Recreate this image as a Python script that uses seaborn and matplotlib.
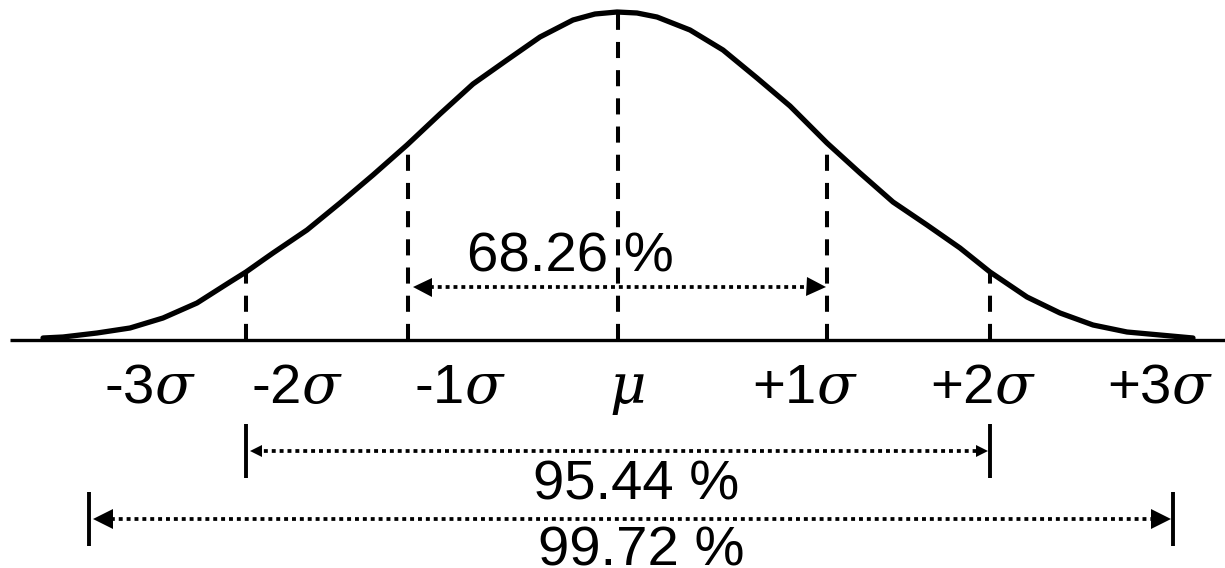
import numpy as np
import matplotlib
matplotlib.use("Agg")
import matplotlib.pyplot as plt
import seaborn as sns

# ---- data (diagram units: x offset from mean, y height above baseline) ----
curve_x = [-575, -555, -521, -488, -455, -421, -388, -372, -355, -345, -311, -278,
           -245, -211, -178, -145, -111, -78, -45, -23, -1, 19, 39, 72, 105, 139,
           172, 209, 242, 275, 309, 342, 372, 409, 442, 475, 509, 542, 575]
curve_y = [2, 3, 7, 12, 22, 37, 58, 68, 80, 87, 110, 137,
           165, 195, 226, 256, 280, 303, 320, 326, 328, 327, 323, 310, 290, 262,
           234, 197, 167, 138, 115, 92, 68, 43, 27, 15, 8, 5, 2]

sigma_marks = [-3, -2, -1, 0, 1, 2, 3]
sigma_labels = [r'-3$\sigma$', r'-2$\sigma$', r'-1$\sigma$', r'$\mu$',
                r'+1$\sigma$', r'+2$\sigma$', r'+3$\sigma$']
mark_x = [-529, -372, -210, 0, 209, 372, 555]   # where each mark sits on the axis
guide_marks = [-2, -1, 0, 1, 2]                 # dashed guides
percent_labels = ['68.26 %', '95.44 %', '99.72 %']

# ---- style ----
sns.set_theme(style="white")
plt.rcParams['font.family'] = ['Liberation Sans', 'DejaVu Sans']
plt.rcParams['text.color'] = 'black'
plt.rcParams['mathtext.fontset'] = 'custom'
plt.rcParams['mathtext.rm'] = 'Liberation Sans'
plt.rcParams['mathtext.it'] = 'DejaVu Serif:italic'

FS = 40.5

fig = plt.figure(figsize=(12.25, 5.68), dpi=100)
ax = fig.add_axes([0, 0, 1, 1])
ax.set_xlim(-618, 607)
ax.set_ylim(-228, 340)
ax.axis('off')

pos = dict(zip(sigma_marks, mark_x))
PT = 0.72  # points per data unit (1 unit = 1 px)

# baseline
ax.plot([-608, 607], [0, 0], color='black', lw=2.4, solid_capstyle='butt', zorder=2)

# curve
sns.lineplot(x=curve_x, y=curve_y, sort=False, estimator=None, color='black',
             linewidth=3.8, ax=ax, zorder=3)
ax.lines[-1].set_solid_joinstyle('round')
ax.lines[-1].set_solid_capstyle('round')

# dashed guides
for m in guide_marks:
    gx = pos[m]
    top = float(np.interp(gx, curve_x, curve_y))
    ax.plot([gx, gx], [0, top], color='black', lw=2.9, dashes=(4, 3),
            dash_capstyle='butt', zorder=2)

# axis labels
label_x = [-468, -321, -158, 9, 187, 365, 542]
for lx, lab in zip(label_x, sigma_labels):
    ax.text(lx, -63, lab, ha='center', va='baseline', fontsize=FS, color='black')


def dotted_arrow(x0, x1, y, head_len, bar=None):
    ax.plot([x0 + head_len * 0.5, x1 - head_len * 0.5], [y, y], color='black',
            lw=2.7, dashes=(1.05, 1.05), dash_capstyle='butt', zorder=2)
    ms = head_len * PT
    ax.plot([x0 + head_len / 2], [y], marker='<', markersize=ms, color='black',
            markeredgewidth=0, linestyle='none')
    ax.plot([x1 - head_len / 2], [y], marker='>', markersize=ms, color='black',
            markeredgewidth=0, linestyle='none')
    if bar is not None:
        for bx in (x0 - 4, x1 + 2):
            ax.plot([bx, bx], [y - bar, y + bar], color='black', lw=2.8,
                    solid_capstyle='butt')


# 68.26 %
dotted_arrow(pos[-1] + 4, pos[1] - 2, 53, 19)
ax.text(-48, 68, percent_labels[0], ha='center', va='baseline', fontsize=FS, color='black')

# 95.44 %
dotted_arrow(pos[-2] + 4, pos[2] - 2, -111, 12, bar=27)
ax.text(18, -160, percent_labels[1], ha='center', va='baseline', fontsize=FS, color='black')

# 99.72 %
dotted_arrow(pos[-3] + 4, pos[3] - 2, -179, 20, bar=27)
ax.text(23, -225, percent_labels[2], ha='center', va='baseline', fontsize=FS, color='black')

fig.savefig('out.png', dpi=100)
